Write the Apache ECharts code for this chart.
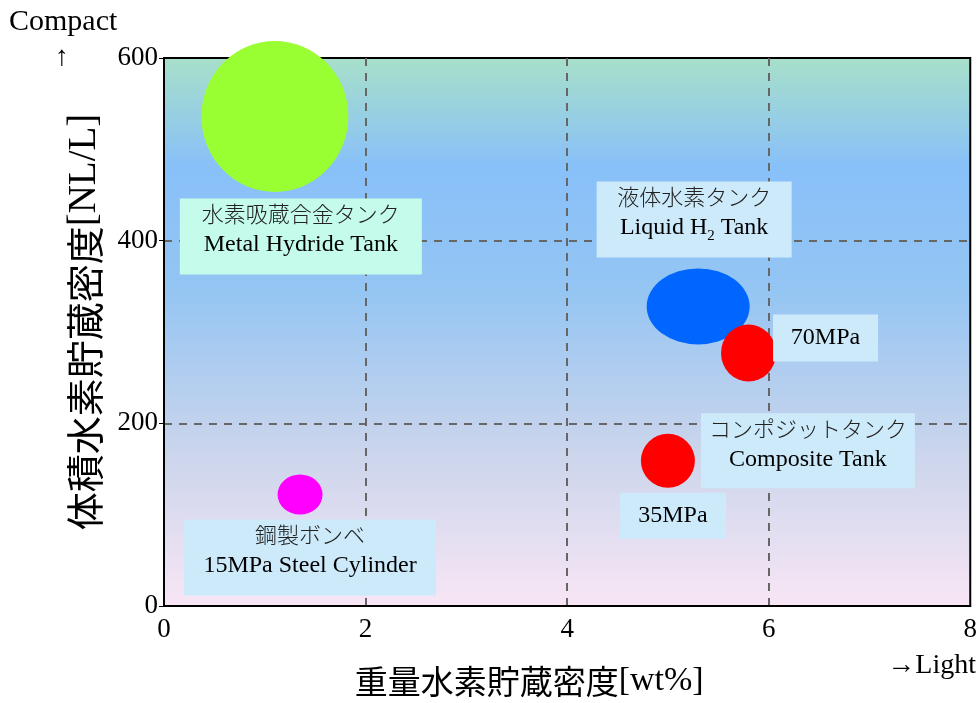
<!DOCTYPE html>
<html>
<head>
<meta charset="utf-8">
<title>水素貯蔵密度の比較</title>
<script src="https://cdn.jsdelivr.net/npm/echarts@6/dist/echarts.min.js"></script>
<style>
  html, body { margin: 0; padding: 0; background: #fff; }
  #chart { width: 980px; height: 703px; }
</style>
</head>
<body>
<div id="chart"></div>
<script>
// Storage technologies and their hydrogen storage densities
const tanks = ['Metal Hydride Tank', 'Liquid H2 Tank', '70MPa', '35MPa', '15MPa Steel Cylinder'];
const gravimetric = [1.1, 5.3, 5.8, 5.0, 1.35];   // wt%
const volumetric = [536, 328, 277, 159, 122];     // NL/L

// Text shown in each tank's label box
const labelJa = ['水素吸蔵合金タンク', '液体水素タンク', '', '', '鋼製ボンベ'];
const labelEn = ['Metal Hydride Tank', 'Liquid H{sub|2} Tank', '70MPa', '35MPa', '15MPa Steel Cylinder'];
const groupJa = 'コンポジットタンク';
const groupEn = 'Composite Tank';

const xTicks = [0, 2, 4, 6, 8];
const yTicks = [0, 200, 400, 600];

// Appearance of each bubble and its label box
const bubbleSize = [[147, 151], [103, 76], [55, 57], [54, 54], [45, 40]];
const bubbleColor = ['#99ff33', '#0066ff', '#ff0000', '#ff0000', '#ff00ff'];
const boxSize = [[242, 76], [195, 76], [105, 47], [106, 46], [252, 76]];
const boxOffset = [[26, 120], [-4, -87], [77, -15], [5, 55], [10, 63]];
const boxColor = ['#c4fbea', '#cdeafb', '#cdeafb', '#cdeafb', '#cdeafb'];

const SERIF = 'Liberation Serif, Times New Roman, serif';
const JP = 'Noto Sans CJK JP, sans-serif';

const richStyles = {
  ja: { fontFamily: JP, fontSize: 22, fontWeight: 300, color: '#222', lineHeight: 31 },
  en: { fontFamily: SERIF, fontSize: 24, color: '#000', lineHeight: 31 },
  en1: { fontFamily: SERIF, fontSize: 24, color: '#000', lineHeight: 46 },
  sub: { fontFamily: SERIF, fontSize: 15, color: '#000', lineHeight: 22, verticalAlign: 'bottom' }
};

// Wrap plain runs of the English line in the "en" style, keeping {sub|..} tokens
function englishLine(s) {
  return s.split(/(\{sub\|[^}]*\})/).filter(Boolean)
    .map(part => part.startsWith('{sub|') ? part : '{en|' + part + '}').join('');
}

function boxLabel(i) {
  const text = labelJa[i]
    ? '{ja|' + labelJa[i] + '}\n' + englishLine(labelEn[i])
    : '{en1|' + labelEn[i] + '}';
  return {
    show: true,
    position: 'inside',
    offset: boxOffset[i],
    formatter: text,
    width: boxSize[i][0],
    height: boxSize[i][1],
    align: 'center',
    verticalAlign: 'middle',
    backgroundColor: boxColor[i],
    rich: richStyles
  };
}

const points = tanks.map((name, i) => ({
  name: name,
  value: [gravimetric[i], volumetric[i]],
  symbolSize: bubbleSize[i],
  itemStyle: { color: bubbleColor[i], opacity: 1 },
  label: boxLabel(i)
}));

const chart = echarts.init(document.getElementById('chart'), null, { renderer: 'canvas' });

chart.setOption({
  animation: false,
  backgroundColor: '#ffffff',
  grid: {
    left: 164, right: 7, top: 58, bottom: 90,
    show: true,
    borderColor: '#000',
    borderWidth: 2,
    backgroundColor: {
      type: 'linear', x: 0, y: 0, x2: 0, y2: 1,
      colorStops: [
        { offset: 0, color: '#a8e0c9' },
        { offset: 0.2, color: '#88c0f9' },
        { offset: 0.42, color: '#94c5f3' },
        { offset: 0.72, color: '#cbd5ec' },
        { offset: 1, color: '#f8e6f5' }
      ]
    }
  },
  xAxis: {
    type: 'value',
    min: xTicks[0], max: xTicks[xTicks.length - 1], interval: xTicks[1] - xTicks[0],
    axisLine: { show: true, onZero: false, lineStyle: { color: '#000', width: 2 } },
    axisTick: { show: false },
    axisLabel: { fontFamily: SERIF, fontSize: 27, color: '#000', margin: 10 },
    splitLine: { show: true, showMinLine: false, showMaxLine: false, lineStyle: { color: '#666', width: 2, type: [8, 7] } },
    name: '{ja|重量水素貯蔵密度}{en|[wt%]}',
    nameLocation: 'middle',
    nameGap: 58,
    nameTextStyle: {
      padding: [0, 76, 0, 0],
      rich: {
        ja: { fontFamily: JP, fontSize: 33, color: '#000' },
        en: { fontFamily: SERIF, fontSize: 34, color: '#000' }
      }
    }
  },
  yAxis: {
    type: 'value',
    min: yTicks[0], max: yTicks[yTicks.length - 1], interval: yTicks[1] - yTicks[0],
    axisLine: { show: true, onZero: false, lineStyle: { color: '#000', width: 2 } },
    axisTick: { show: true, length: 5, lineStyle: { color: '#000', width: 1 } },
    axisLabel: { fontFamily: SERIF, fontSize: 27, color: '#000', margin: 6 },
    splitLine: { show: true, showMinLine: false, showMaxLine: false, lineStyle: { color: '#666', width: 2, type: [8, 7] } },
    name: '{ja|体積水素貯蔵密度}{en|[NL/L]}',
    nameLocation: 'middle',
    nameGap: 60,
    nameRotate: 90,
    nameTextStyle: {
      padding: [0, 0, 0, 20],
      rich: {
        ja: { fontFamily: JP, fontSize: 38, color: '#000' },
        en: { fontFamily: SERIF, fontSize: 39, color: '#000' }
      }
    }
  },
  graphic: [
    { type: 'text', left: 9, top: 7, style: { text: 'Compact', font: '30px ' + SERIF, fill: '#000' } },
    { type: 'text', left: 55, top: 44, style: { text: '↑', font: '28px ' + SERIF, fill: '#000' } },
    { type: 'text', right: 4, top: 652, style: { text: '→Light', font: '28px ' + SERIF, fill: '#000' } }
  ],
  series: [{
    type: 'scatter',
    symbol: 'circle',
    data: points,
    markPoint: {
      symbol: 'circle',
      symbolSize: 0,
      data: [{
        name: groupEn,
        coord: [gravimetric[3], volumetric[3]],
        label: {
          show: true,
          position: 'inside',
          offset: [140, -10],
          formatter: '{ja|' + groupJa + '}\n{en|' + groupEn + '}',
          width: 214, height: 75,
          align: 'center', verticalAlign: 'middle',
          backgroundColor: '#cdeafb',
          rich: richStyles
        }
      }]
    }
  }]
});
</script>
</body>
</html>
